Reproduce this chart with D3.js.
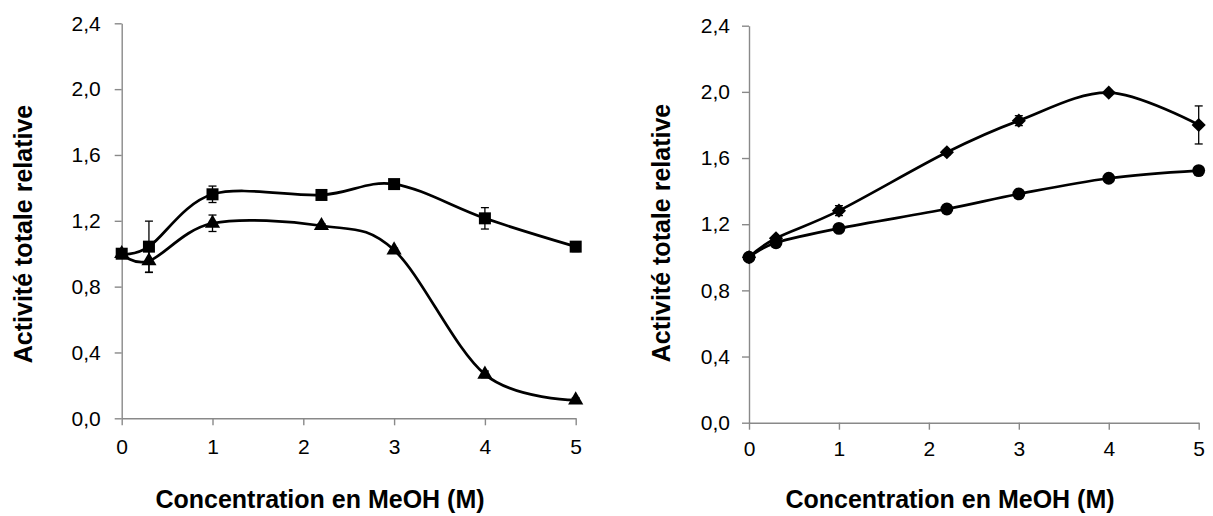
<!DOCTYPE html>
<html>
<head>
<meta charset="utf-8">
<script src="https://cdn.jsdelivr.net/npm/d3@7"></script>
<style>
  html, body { margin: 0; padding: 0; background: #fff; }
  svg { display: block; font-family: "Liberation Sans", Arial, sans-serif; }
</style>
</head>
<body>
<svg id="chart" width="1213" height="516"></svg>
<script>
// ---- data ----
const conc = [0, 0.3, 1, 2.2, 3, 4, 5];
const yTicks = [0, 0.4, 0.8, 1.2, 1.6, 2.0, 2.4];
const xTicks = [0, 1, 2, 3, 4, 5];

// left panel
const squares   = [1.0, 1.043, 1.361, 1.357, 1.423, 1.215, 1.043];
const squareErr = [0.01, 0.155, 0.05, 0.015, 0.015, 0.065, 0.03];
const triangles = [1.0, 0.956, 1.185, 1.17, 1.022, 0.267, 0.111];
const triErr    = [0.01, 0.07, 0.05, 0.012, 0.012, 0.02, 0.012];

// right panel
const diamonds  = [1.0, 1.115, 1.282, 1.635, 1.826, 1.995, 1.80];
const diaErr    = [0.01, 0.015, 0.03, 0.015, 0.03, 0.01, 0.115];
const circles   = [1.0, 1.088, 1.175, 1.292, 1.383, 1.478, 1.524];
const circErr   = [0.01, 0.01, 0.01, 0.01, 0.01, 0.01, 0.02];

const yTitle = "Activité totale relative";
const xTitle = "Concentration en MeOH (M)";

// ---- drawing ----
const svg = d3.select("#chart");
const fmt = v => d3.format(".1f")(v).replace(".", ",");
const axisColor = "#898989";

function panel(cfg) {
  const x = d3.scaleLinear().domain([0, 5]).range([cfg.x0, cfg.x1]);
  const y = d3.scaleLinear().domain([0, 2.4]).range([cfg.y0, cfg.y1]);
  const g = svg.append("g");

  const ya = g.append("g").attr("transform", `translate(${cfg.x0},0)`)
    .call(d3.axisLeft(y).tickValues(yTicks).tickFormat(fmt)
      .tickSize(7).tickSizeOuter(0).tickPadding(cfg.yPad));
  const xa = g.append("g").attr("transform", `translate(0,${cfg.y0})`)
    .call(d3.axisBottom(x).tickValues(xTicks).tickFormat(d3.format("d"))
      .tickSize(7).tickSizeOuter(0).tickPadding(cfg.xPad));
  [ya, xa].forEach(a => {
    a.select(".domain").attr("stroke", axisColor).attr("stroke-width", 1.4);
    a.selectAll(".tick line").attr("stroke", axisColor).attr("stroke-width", 1.4);
    a.selectAll(".tick text").attr("fill", "#000").style("font-size", "21px")
      .style("font-family", '"Liberation Sans", Arial, sans-serif');
  });

  cfg.series.forEach(s => {
    const pts = conc.map((c, i) => ({ c, v: s.values[i], e: s.err[i] }));
    const line = d3.line().x(d => x(d.c)).y(d => y(d.v))
      .curve(d3.curveCardinal.tension(0));
    g.append("path").datum(pts).attr("d", line)
      .attr("fill", "none").attr("stroke", "#000").attr("stroke-width", 2.7);

    // error bars
    const eb = g.append("g").attr("stroke", "#000").attr("stroke-width", 1.3);
    pts.forEach(d => {
      const cx = x(d.c), t = y(d.v + d.e), b = y(d.v - d.e);
      eb.append("line").attr("x1", cx).attr("x2", cx).attr("y1", t).attr("y2", b);
      eb.append("line").attr("x1", cx - 4).attr("x2", cx + 4).attr("y1", t).attr("y2", t);
      eb.append("line").attr("x1", cx - 4).attr("x2", cx + 4).attr("y1", b).attr("y2", b);
    });

    // markers
    g.append("g").selectAll("path").data(pts).join("path")
      .attr("d", d3.symbol().type(s.symbol).size(s.size))
      .attr("transform", d => `translate(${x(d.c)},${y(d.v)}) rotate(${s.rotate || 0})`)
      .attr("fill", "#000");
  });

  // axis titles
  g.append("text")
    .attr("transform", `translate(${cfg.yTitleX},${cfg.yTitleY}) rotate(-90)`)
    .attr("text-anchor", "middle").style("font-size", "25px").style("font-weight", "bold")
    .text(yTitle);
  g.append("text")
    .attr("x", cfg.xTitleX).attr("y", cfg.xTitleY)
    .attr("text-anchor", "middle").style("font-size", "25px").style("font-weight", "bold")
    .text(xTitle);
}

panel({
  x0: 121.7, x1: 575.7, y0: 418.3, y1: 23.3, yPad: 14, xPad: 14,
  yTitleX: 32, yTitleY: 234, xTitleX: 320, xTitleY: 508,
  series: [
    { values: squares, err: squareErr, symbol: d3.symbolSquare, size: 144 },
    { values: triangles, err: triErr, symbol: d3.symbolTriangle, size: 100 }
  ]
});

panel({
  x0: 749, x1: 1198.7, y0: 422.7, y1: 25.7, yPad: 12, xPad: 11,
  yTitleX: 670, yTitleY: 233, xTitleX: 950, xTitleY: 508,
  series: [
    { values: circles, err: circErr, symbol: d3.symbolCircle, size: 130 },
    { values: diamonds, err: diaErr, symbol: d3.symbolSquare, size: 100, rotate: 45 }
  ]
});
</script>
</body>
</html>
